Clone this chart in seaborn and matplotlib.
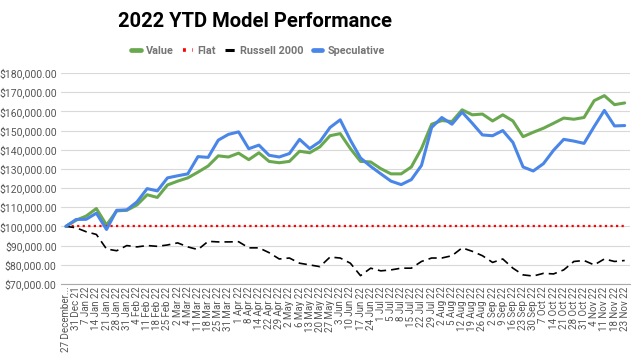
"""Recreate the 2022 YTD model performance line chart."""

import matplotlib.pyplot as plt
import pandas as pd
import seaborn as sns
from matplotlib.lines import Line2D
from matplotlib.ticker import FuncFormatter

DATES = [
    "27 December...", "31 Dec 21", "7 Jan 22", "14 Jan 22", "21 Jan 22", "28 Jan 22",
    "31 Jan 22", "4 Feb 22", "11 Feb 22", "18 Feb 22", "25 Feb 22", "2 Mar 22",
    "4 Mar 22", "11 Mar 22", "18 Mar 22", "25 Mar 22", "31 Mar 22", "1 Apr 22",
    "8 Apr 22", "14 Apr 22", "22 Apr 22", "29 Apr 22", "2 May 22", "6 May 22",
    "13 May 22", "20 May 22", "27 May 22", "3 Jun 22", "10 Jun 22", "17 Jun 22",
    "24 Jun 22", "1 Jul 22", "5 Jul 22", "8 Jul 22", "15 Jul 22", "22 Jul 22",
    "29 Jul 22", "2 Aug 22", "5 Aug 22", "12 Aug 22", "19 Aug 22", "26 Aug 22",
    "2 Sep 22", "9 Sep 22", "16 Sep 22", "23 Sep 22", "30 Sep 22", "7 Oct 22",
    "14 Oct 22", "21 Oct 22", "28 Oct 22", "31 Oct 22", "4 Nov 22", "11 Nov 22",
    "18 Nov 22", "23 Nov 22",
]

VALUE = [
    100000, 103200, 105400, 109300, 100700, 108100, 108400, 111200, 116500, 115100,
    121600, 123600, 125300, 128300, 131500, 136800, 136200, 138200, 134800, 138400,
    133900, 133200, 133900, 139200, 138400, 141500, 147300, 148400, 140600, 133900,
    133600, 130100, 127400, 127400, 131000, 140600, 153300, 155200, 154700, 160800,
    158200, 158600, 155000, 158200, 155000, 146800, 149100, 151200, 153800, 156500,
    155900, 156800, 165600, 168200, 163500, 164400,
]

FLAT = [100000] * len(DATES)

RUSSELL = [
    100000, 99300, 97200, 95800, 88200, 87300, 90000, 89300, 90000, 89600,
    90300, 91400, 89300, 87900, 92200, 91900, 91900, 92000, 88800, 88800,
    86300, 83000, 83500, 80800, 79900, 79000, 84000, 83500, 80800, 74300,
    78200, 76800, 77300, 78200, 78200, 81700, 83500, 83500, 84700, 88800,
    87000, 84700, 81200, 83000, 78200, 74700, 74100, 75500, 75200, 77300,
    81700, 82200, 79900, 83000, 81700, 82200,
]

SPECULATIVE = [
    100000, 103600, 103700, 106900, 98400, 108400, 108600, 112800, 119700, 118500,
    125300, 126400, 127400, 136400, 136000, 145000, 148000, 149300, 140500, 142400,
    137100, 136200, 138000, 145400, 140600, 144200, 151600, 155600, 145000, 135700,
    131300, 127400, 123600, 121800, 124400, 131800, 151600, 156800, 153300, 159600,
    153800, 147700, 147300, 150000, 143800, 131000, 128900, 132700, 139700, 145400,
    144500, 143300, 152100, 160500, 152400, 152600,
]

# name -> (values, colour, dash pattern or None, line width)
SERIES = {
    "Value": (VALUE, "#6aa84f", None, 2.2),
    "Flat": (FLAT, "#ff0000", (1, 1.5), 1.6),
    "Russell 2000": (RUSSELL, "#000000", (5, 3), 1.2),
    "Speculative": (SPECULATIVE, "#4a86e8", None, 2.2),
}


def main() -> None:
    sns.set_theme(style="white")
    plt.rcParams["font.family"] = ["Roboto", "DejaVu Sans"]

    fig = plt.figure(figsize=(6.4, 3.58), dpi=100)
    ax = fig.add_axes([0.095, 0.207, 0.889, 0.589])

    handles = []
    for name, (values, color, dashes, width) in SERIES.items():
        df = pd.DataFrame({"pos": range(len(DATES)), "value": values})
        sns.lineplot(data=df, x="pos", y="value", color=color, linewidth=width, ax=ax)
        line = ax.lines[-1]
        if dashes:
            line.set_dashes(dashes)
        handle = Line2D([], [], color=color, linewidth=width + 1.2 if dashes is None else width + 1.0)
        if dashes:
            handle.set_dashes((dashes[0] * 0.8, dashes[1] * 1.2) if name == "Flat" else (3, 2))
        handles.append(handle)

    ax.set_xlim(-0.5, len(DATES) - 0.5)
    ax.set_ylim(70000, 180000)
    ax.set_yticks(range(70000, 180001, 10000))
    ax.yaxis.set_major_formatter(FuncFormatter(lambda v, _: f"${v:,.2f}"))
    ax.set_xticks(range(len(DATES)))
    ax.set_xticklabels(DATES, rotation=90, fontsize=7, color="#555555")
    ax.tick_params(axis="y", labelsize=7.5, colors="#555555", length=0, pad=3)
    ax.tick_params(axis="x", length=0, pad=2)
    ax.set_xlabel("")
    ax.set_ylabel("")
    ax.grid(axis="y", color="#d9d9d9", linewidth=0.8)
    ax.set_axisbelow(True)
    for side in ["top", "right", "left"]:
        ax.spines[side].set_visible(False)
    ax.spines["bottom"].set_color("#aaaaaa")
    ax.spines["bottom"].set_linewidth(0.8)

    fig.text(0.399, 0.94, "2022 YTD Model Performance", ha="center", va="center",
             fontsize=14.5, fontweight="bold", color="#000000")
    fig.legend(handles, list(SERIES.keys()), loc="center", bbox_to_anchor=(0.403, 0.858),
               ncol=4, frameon=False, handlelength=0.9, columnspacing=0.85,
               handletextpad=0.45, labelcolor="#757575", prop={"weight": "bold", "size": 7.8})

    fig.savefig("out.png", dpi=100)
    plt.close(fig)


if __name__ == "__main__":
    main()
